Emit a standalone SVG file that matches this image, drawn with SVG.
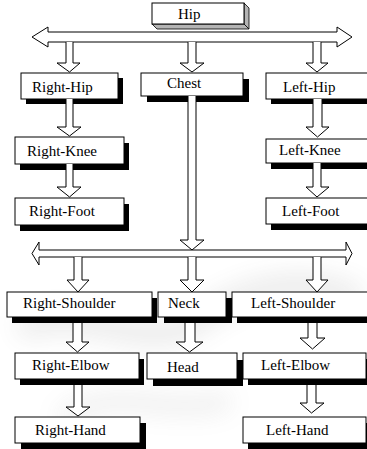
<svg xmlns="http://www.w3.org/2000/svg" width="367" height="449" viewBox="0 0 367 449">
<defs>
<style>
.box{fill:#fff;stroke:#000;stroke-width:1}
.sh{fill:#000}
.ar{fill:#fff;stroke:#000;stroke-width:1;stroke-linejoin:miter}
text{font-family:"Liberation Serif","Times New Roman",serif;font-size:15px;fill:#000}
.side{fill:#b4b4b4;stroke:#000;stroke-width:0.8}
</style>
<filter id="blur" x="-50%" y="-50%" width="200%" height="200%"><feGaussianBlur stdDeviation="12"/></filter>
</defs>
<rect width="367" height="449" fill="#fff"/>
<g id="watermark" filter="url(#blur)" opacity="0.12">
<path d="M20,330 C80,300 150,360 200,320 C240,290 300,270 360,300" fill="none" stroke="#555" stroke-width="22"/>
<path d="M60,420 C120,380 160,420 230,400" fill="none" stroke="#777" stroke-width="18"/>
</g>
<g id="Hip">
<polygon class="side" points="244,3 249,8 249,29 244,24"/>
<polygon class="side" points="152,24 157,29 249,29 244,24"/>
<rect class="box" x="152" y="3" width="92" height="21"/>
<text x="178" y="19">Hip</text>
</g>
<g id="Right-Hip"><rect class="sh" x="26" y="78" width="97" height="26"/><rect class="box" x="21" y="73" width="97" height="26"/><text x="32" y="91.5">Right-Hip</text></g>
<g id="Chest"><rect class="sh" x="147" y="79" width="102" height="23"/><rect class="box" x="141" y="73" width="102" height="23"/><text x="167" y="88">Chest</text></g>
<g id="Left-Hip"><rect class="sh" x="271" y="78" width="104" height="26"/><rect class="box" x="266" y="73" width="104" height="26"/><text x="283" y="91.5">Left-Hip</text></g>
<g id="Right-Knee"><rect class="sh" x="20" y="143" width="109" height="27"/><rect class="box" x="15" y="137" width="109" height="27"/><text x="27" y="156">Right-Knee</text></g>
<g id="Left-Knee"><rect class="sh" x="271" y="145" width="104" height="24"/><rect class="box" x="266" y="139" width="104" height="24"/><text x="279" y="155">Left-Knee</text></g>
<g id="Right-Foot"><rect class="sh" x="20" y="204" width="109" height="27"/><rect class="box" x="15" y="198" width="109" height="27"/><text x="29" y="216">Right-Foot</text></g>
<g id="Left-Foot"><rect class="sh" x="271" y="204" width="104" height="26"/><rect class="box" x="266" y="198" width="104" height="26"/><text x="282" y="216">Left-Foot</text></g>
<g id="Right-Shoulder"><rect class="sh" x="12" y="298" width="145" height="25"/><rect class="box" x="7" y="292" width="145" height="25"/><text x="23" y="308">Right-Shoulder</text></g>
<g id="Neck"><rect class="sh" x="164" y="298" width="68" height="25"/><rect class="box" x="158" y="292" width="68" height="25"/><text x="168" y="308">Neck</text></g>
<g id="Left-Shoulder"><rect class="sh" x="237" y="298" width="138" height="25"/><rect class="box" x="232" y="292" width="138" height="25"/><text x="251" y="308">Left-Shoulder</text></g>
<g id="Right-Elbow"><rect class="sh" x="20" y="359" width="124" height="26"/><rect class="box" x="15" y="353" width="124" height="26"/><text x="32" y="370">Right-Elbow</text></g>
<g id="Head"><rect class="sh" x="153" y="360" width="90" height="26"/><rect class="box" x="147" y="353" width="90" height="26"/><text x="167" y="372">Head</text></g>
<g id="Left-Elbow"><rect class="sh" x="248" y="359" width="123" height="26"/><rect class="box" x="243" y="353" width="123" height="26"/><text x="261" y="370">Left-Elbow</text></g>
<g id="Right-Hand"><rect class="sh" x="21" y="423" width="125" height="26"/><rect class="box" x="15" y="417" width="125" height="26"/><text x="35" y="435">Right-Hand</text></g>
<g id="Left-Hand"><rect class="sh" x="248" y="423" width="123" height="26"/><rect class="box" x="243" y="417" width="123" height="26"/><text x="266" y="435">Left-Hand</text></g>
<g id="connectors">
<polygon class="ar" points="32,37 48,27 48,32 337,32 337,27 352,37 337,47 337,42 48,42 48,47"/>
<path class="ar" d="M66,42 V63 H57 L69.5,72 L80,63 H73 V42"/>
<path class="ar" d="M188,42 V63 H180 L192,72 L204,63 H196 V42"/>
<path class="ar" d="M313,42 V63 H306 L317,72 L328,63 H321 V42"/>
<path class="ar" d="M66,99 V127 H57 L69.5,136 L81,127 H73 V99"/>
<path class="ar" d="M66,164 V187 H57 L69.5,197 L81,187 H73 V164"/>
<path class="ar" d="M313,99 V127 H306 L317.5,137 L329,127 H322 V99"/>
<path class="ar" d="M313,163 V187 H306 L317,197 L329,187 H321 V163"/>
<path class="ar" d="M188,96 V240 H180 L192,250 L204,240 H196 V96"/>
<polygon class="ar" points="32,253.5 39,242 39,250 346,250 346,242 352,253.5 346,265 346,257 39,257 39,265"/>
<path class="ar" d="M74,257 V280 H67 L78,292 L89,280 H82 V257"/>
<path class="ar" d="M188,257 V280 H180 L192,292 L204,280 H196 V257"/>
<path class="ar" d="M313,257 V280 H306 L317,292 L328,280 H321 V257"/>
<path class="ar" d="M73,323 V342 H66 L77.5,352 L89,342 H82 V323"/>
<path class="ar" d="M185,323 V342 H176 L189.5,352 L203,342 H195 V323"/>
<path class="ar" d="M308,323 V338 H300 L312.5,349 L325,338 H317 V323"/>
<path class="ar" d="M74,385 V407 H66 L78,416 L90,407 H82 V385"/>
<path class="ar" d="M307,385 V403 H300 L311.5,413 L324,403 H316 V385"/>
</g>
</svg>
